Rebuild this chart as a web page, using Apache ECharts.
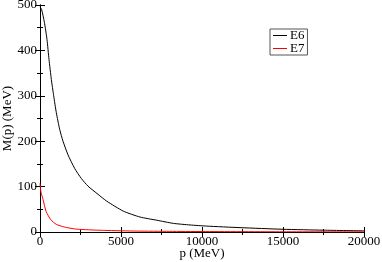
<!DOCTYPE html>
<html><head><meta charset="utf-8">
<script src="https://cdn.jsdelivr.net/npm/echarts@6/dist/echarts.min.js"></script>
<style>html,body{margin:0;padding:0;background:#fff}#c{width:382px;height:262px}</style>
</head><body><div id="c"></div>
<script>
const seriesNames = ["E6", "E7"];
const e6P = [0, 100, 270, 432, 556, 700, 845, 1006, 1215, 1420, 1728, 2140, 2550, 2963, 3580, 4115, 5140, 6170, 7200, 8230, 9260, 10290, 12350, 15000, 17500, 20000];
const e6M = [496, 490, 462, 424, 380, 336, 300, 263, 226, 200, 170, 140, 118, 101, 83, 68, 46, 33, 26, 19, 15.5, 13, 9.6, 6, 4, 2.5];
const e7P = [0, 60, 185, 380, 670, 1000, 1500, 2200, 3000, 4000, 6000, 8000, 10000, 15000, 20000];
const e7M = [107, 88, 72, 45, 27, 17, 11, 6.5, 4.8, 3.5, 2, 1.4, 1, 0.5, 0.3];
const xTicks = [0, 5000, 10000, 15000, 20000];
const yTicks = [0, 100, 200, 300, 400, 500];

const font = "'Liberation Serif','DejaVu Serif',serif";
const fs = 13;
const chart = echarts.init(document.getElementById('c'));
const toPairs = (xs, ys) => xs.map((x, i) => [x, ys[i]]);
const baseAxis = {
  type: 'value',
  axisLine: {show: true, lineStyle: {color: '#000', width: 1}},
  axisTick: {show: true, inside: true, length: 5, lineStyle: {color: '#000'}},
  minorTick: {show: true, splitNumber: 2, length: 3, lineStyle: {color: '#000'}},
  splitLine: {show: false},
};
const plain = v => String(v);
chart.setOption({
  animation: false,
  backgroundColor: '#fff',
  grid: {left: 40, right: 18, top: 5, bottom: 30, containLabel: false, outerBoundsMode: 'none'},
  legend: {
    data: seriesNames,
    orient: 'vertical',
    left: 270, top: 29,
    itemWidth: 14, itemHeight: 1, itemGap: 0,
    icon: 'rect',
    padding: [0, 3, 0, 3],
    borderColor: '#555', borderWidth: 1,
    textStyle: {fontFamily: font, fontSize: fs, color: '#000', padding: [0, 0, 0, -2], lineHeight: 10},
  },
  xAxis: [
    Object.assign({}, baseAxis, {
      min: xTicks[0], max: xTicks[xTicks.length - 1], interval: 5000, position: 'bottom',
      name: 'p (MeV)', nameLocation: 'middle', nameGap: 15, nameMoveOverlap: false,
      nameTextStyle: {fontFamily: font, fontSize: fs, color: '#000'},
      axisLabel: {fontFamily: font, fontSize: fs, color: '#000', margin: 3, formatter: plain},
    }),
    Object.assign({}, baseAxis, {
      min: xTicks[0], max: xTicks[xTicks.length - 1], interval: 5000, position: 'top',
      axisLabel: {show: false},
    }),
  ],
  yAxis: [
    Object.assign({}, baseAxis, {
      min: yTicks[0], max: yTicks[yTicks.length - 1], interval: 100, position: 'left',
      name: 'M(p) (MeV)', nameLocation: 'middle', nameGap: 26, nameRotate: 90, nameMoveOverlap: false,
      nameTextStyle: {fontFamily: font, fontSize: fs, color: '#000'},
      axisLabel: {fontFamily: font, fontSize: fs, color: '#000', margin: 3, formatter: plain},
    }),
    Object.assign({}, baseAxis, {
      min: yTicks[0], max: yTicks[yTicks.length - 1], interval: 100, position: 'right',
      axisLabel: {show: false},
    }),
  ],
  series: [
    {name: seriesNames[0], type: 'line', data: toPairs(e6P, e6M), showSymbol: false, symbol: 'none',
     smooth: 0.2, lineStyle: {color: '#000', width: 1}, itemStyle: {color: '#000'}},
    {name: seriesNames[1], type: 'line', data: toPairs(e7P, e7M), showSymbol: false, symbol: 'none',
     smooth: 0.2, lineStyle: {color: '#ff0000', width: 1}, itemStyle: {color: '#ff0000'}},
  ],
});
</script></body></html>
